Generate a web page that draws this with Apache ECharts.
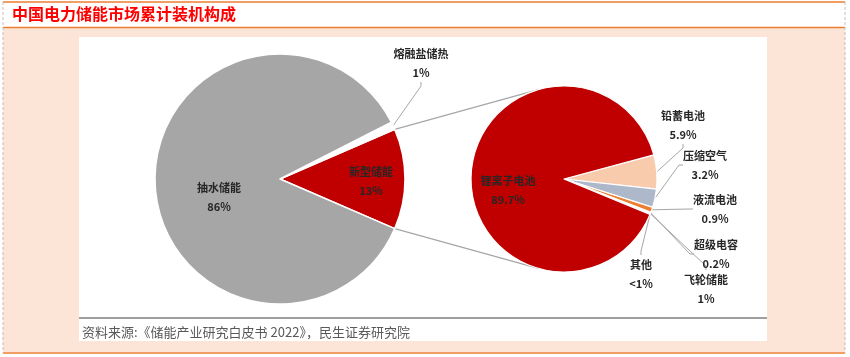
<!DOCTYPE html>
<html><head><meta charset="utf-8">
<script src="https://cdn.jsdelivr.net/npm/echarts@6/dist/echarts.min.js"></script>
<style>html,body{margin:0;padding:0;background:#fff}#c{width:850px;height:357px}</style>
</head><body><div id="c"></div>
<script>
// ---- data ----
const titleText = '中国电力储能市场累计装机构成';
const sourceText = '资料来源:《储能产业研究白皮书 2022》，民生证券研究院';
const mainNames = ['新型储能', '熔融盐储热', '抽水储能'];
const mainValues = [13, 1, 86];
const mainLabels = ['13%', '1%', '86%'];
const subNames = ['铅蓄电池', '压缩空气', '液流电池', '超级电容', '飞轮储能', '其他', '锂离子电池'];
const subValues = [5.9, 3.2, 0.9, 0.2, 0.1, 0.1, 89.7];
const subLabels = ['5.9%', '3.2%', '0.9%', '0.2%', '1%', '<1%', '89.7%'];

// ---- layout / style ----
const FONT = '"Noto Sans CJK SC", "Noto Sans", sans-serif';
const mainColors = ['#C00000', '#FFFFFF', '#A6A6A6'];
const subColors = ['#F8CBAD', '#ADB9CA', '#ED7D31', '#FFC000', '#5B9BD5', '#70AD47', '#C00000'];
const mainCenter = [280, 179], mainR = 125;
const subCenter = [564, 179], subR = 93;
const newShare = mainValues[0] / mainValues.reduce((a, b) => a + b, 0);
const halfAng = newShare * 180; // degrees
const mainLabelPos = [[371, 181], [421, 63], [219, 197]];
const subLabelPos = [[683, 125], [705, 165], [715, 209], [716, 254], [706, 289], [641, 274], [508, 190]];

const labelText = { fontSize: 11, fontWeight: 'bold', color: '#262626', lineHeight: 19, fontFamily: FONT, textBorderWidth: 0, textBorderColor: 'transparent' };
const leader = { show: true, length: 8, length2: 4, lineStyle: { color: '#A6A6A6', width: 1 } };

// connector tangent lines from the corners of the 新型储能 slice to the secondary pie
function tangent(P, C, r, sign) {
  const dx = C[0] - P[0], dy = C[1] - P[1];
  const d = Math.hypot(dx, dy);
  const a = Math.atan2(dy, dx) + sign * Math.asin(r / d);
  const L = Math.sqrt(d * d - r * r);
  return [P[0] + L * Math.cos(a), P[1] + L * Math.sin(a)];
}
const rad = halfAng * Math.PI / 180;
const cTop = [mainCenter[0] + mainR * Math.cos(rad), mainCenter[1] - mainR * Math.sin(rad)];
const cBot = [mainCenter[0] + mainR * Math.cos(rad), mainCenter[1] + mainR * Math.sin(rad)];
const tTop = tangent(cTop, subCenter, subR, -1);
const tBot = tangent(cBot, subCenter, subR, 1);

const chart = echarts.init(document.getElementById('c'), null, { renderer: 'canvas' });
chart.setOption({
  animation: false,
  graphic: [
    { type: 'rect', z: 0, shape: { x: 3, y: 28, width: 842, height: 324 }, style: { fill: '#FCE4D6' } },
    { type: 'rect', z: 0, shape: { x: 79, y: 37, width: 688, height: 304 }, style: { fill: '#FFFFFF' } },
    { type: 'line', z: 1, shape: { x1: 3, y1: 2, x2: 845, y2: 2 }, style: { stroke: '#ED7D31', lineWidth: 1.5 } },
    { type: 'line', z: 1, shape: { x1: 3, y1: 27.5, x2: 845, y2: 27.5 }, style: { stroke: '#ED7D31', lineWidth: 1.5 } },
    { type: 'line', z: 1, shape: { x1: 3, y1: 353, x2: 845, y2: 353 }, style: { stroke: '#ED7D31', lineWidth: 1.5 } },
    { type: 'line', z: 1, shape: { x1: 3, y1: 2, x2: 3, y2: 353 }, style: { stroke: '#BFBFBF', lineWidth: 1, lineDash: [3, 2] } },
    { type: 'line', z: 1, shape: { x1: 845, y1: 2, x2: 845, y2: 353 }, style: { stroke: '#BFBFBF', lineWidth: 1, lineDash: [3, 2] } },
    { type: 'line', z: 1, shape: { x1: 79, y1: 318, x2: 767, y2: 318 }, style: { stroke: '#7F7F7F', lineWidth: 1.5 } },
    { type: 'text', z: 5, x: 12, y: 14, style: { text: titleText, fill: '#FF0000', font: 'bold 16px ' + FONT, textVerticalAlign: 'middle', verticalAlign: 'middle' } },
    { type: 'text', z: 5, x: 82, y: 332, style: { text: sourceText, fill: '#595959', font: '13px ' + FONT, textVerticalAlign: 'middle', verticalAlign: 'middle' } },
    { type: 'line', z: 1, shape: { x1: cTop[0], y1: cTop[1], x2: tTop[0], y2: tTop[1] }, style: { stroke: '#A6A6A6', lineWidth: 1.2 } },
    { type: 'line', z: 1, shape: { x1: cBot[0], y1: cBot[1], x2: tBot[0], y2: tBot[1] }, style: { stroke: '#A6A6A6', lineWidth: 1.2 } }
  ],
  series: [
    {
      type: 'pie', name: 'main', center: mainCenter, radius: mainR,
      startAngle: -halfAng, clockwise: false, avoidLabelOverlap: false,
      itemStyle: { borderColor: '#FFFFFF', borderWidth: 1.5 },
      label: Object.assign({ formatter: p => p.name + '\n' + mainLabels[p.dataIndex] }, labelText),
      labelLine: leader,
      labelLayout: p => ({ x: mainLabelPos[p.dataIndex][0], y: mainLabelPos[p.dataIndex][1], align: 'center', verticalAlign: 'middle' }),
      data: mainNames.map((n, i) => ({
        name: n, value: mainValues[i], itemStyle: { color: mainColors[i] },
        label: Object.assign({ position: i === 1 ? 'outside' : 'inside' }, labelText),
        labelLine: { show: i === 1 }
      }))
    },
    {
      type: 'pie', name: 'sub', center: subCenter, radius: subR,
      startAngle: 15, clockwise: true, avoidLabelOverlap: false,
      itemStyle: { borderColor: '#FFFFFF', borderWidth: 1.2 },
      label: Object.assign({ formatter: p => p.name + '\n' + subLabels[p.dataIndex] }, labelText),
      labelLine: leader,
      labelLayout: p => ({ x: subLabelPos[p.dataIndex][0], y: subLabelPos[p.dataIndex][1], align: 'center', verticalAlign: 'middle' }),
      data: subNames.map((n, i) => ({
        name: n, value: subValues[i], itemStyle: { color: subColors[i] },
        label: Object.assign({ position: i === 6 ? 'inside' : 'outside' }, labelText),
        labelLine: { show: i !== 6 }
      }))
    }
  ]
});
</script>
</body></html>
